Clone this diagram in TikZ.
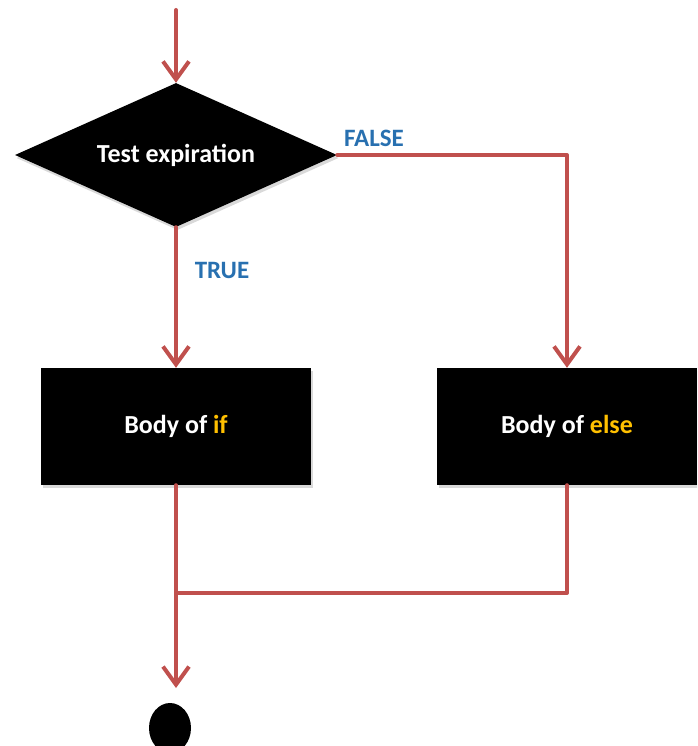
\documentclass[tikz,border=0pt]{standalone}
\usepackage{fontspec}
\setmainfont{Carlito}
\usetikzlibrary{shapes.geometric,arrows.meta,shadows}
\definecolor{flowred}{HTML}{C0504D}
\definecolor{labelblue}{HTML}{2870B0}
\definecolor{keygold}{HTML}{FFC000}
\begin{document}
\begin{tikzpicture}[x=1pt, y=-1pt, line join=round, line cap=round,
	>={Straight Barb[length=18pt,width=26pt]},
	flow/.style={draw=flowred, line width=4pt},
	shade/.style={drop shadow={opacity=0.3, shadow xshift=1.5pt, shadow yshift=-3pt}},
	testbox/.style={diamond, fill=black, shade, aspect=2.24, minimum width=322pt, minimum height=144pt, inner sep=0pt, text=white, font=\bfseries\fontsize{26}{30}\selectfont},
	blockbox/.style={rectangle, fill=black, shade, minimum height=117pt, inner sep=0pt, text=white, font=\bfseries\fontsize{26}{30}\selectfont},
	branch/.style={text=labelblue, font=\bfseries\fontsize{25}{30}\selectfont}]
	\useasboundingbox (0,0) rectangle (697,746);
	\clip (0,0) rectangle (697,746);
	\path (176,10) coordinate (start)
	(176,593) coordinate (join)
	(176,688) coordinate (endtip);
	\node[testbox] (test) at (176,155) {Test expiration};
	\node[blockbox, minimum width=270pt] (bodyif) at (176,426.5) {Body of \textcolor{keygold}{if}};
	\node[blockbox, minimum width=260pt] (bodyelse) at (567,426.5) {Body of \textcolor{keygold}{else}};
	\node[ellipse, fill=black, minimum width=42pt, minimum height=50pt, inner sep=0pt] (stop) at (170,728) {};
	\draw[flow,->] (start) -- (test.north);
	\draw[flow,->] (test.east) -| (bodyelse.north);
	\draw[flow,->] (test.south) -- (bodyif.north);
	\draw[flow] (bodyif.south) -- (join);
	\draw[flow] (bodyelse.south) |- (join);
	\draw[flow,->] (join) -- (endtip);
	\node[branch] (falselbl) at (374,138) {FALSE};
	\node[branch] (truelbl) at (222,270) {TRUE};
\end{tikzpicture}
\end{document}
